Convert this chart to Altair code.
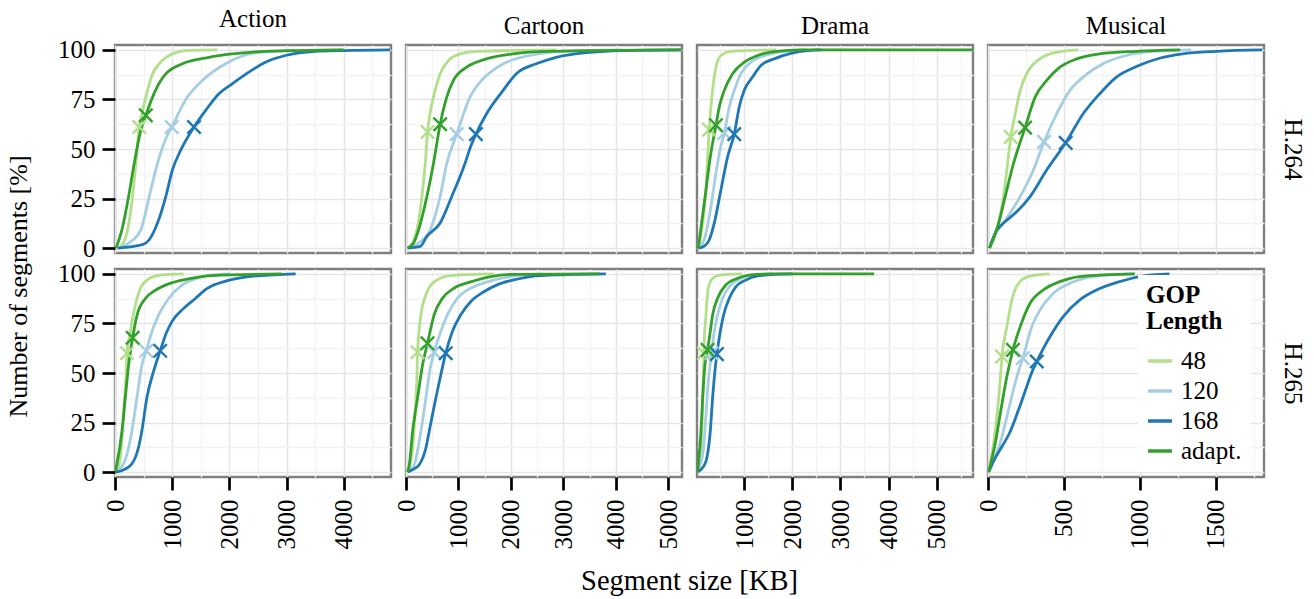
import altair as alt
import pandas as pd

FONT = "Liberation Serif"
GOP = ["48", "120", "168", "adapt."]
COLORS = ["#b2df8a", "#a6cee3", "#1f78b4", "#33a02c"]
GENRES = ["Action", "Cartoon", "Drama", "Musical"]
CODECS = ["H.264", "H.265"]

# x domains per genre column (KB)
ACTION_DOMAIN = [0, 4826]
CARTOON_DOMAIN = [0, 5263]
DRAMA_DOMAIN = [18, 5756]
MUSICAL_DOMAIN = [0, 1816]
ACTION_TICKS = [0, 1000, 2000, 3000, 4000]
CARTOON_TICKS = [0, 1000, 2000, 3000, 4000, 5000]
DRAMA_TICKS = [1000, 2000, 3000, 4000, 5000]
MUSICAL_TICKS = [0, 500, 1000, 1500]
ACTION_MINOR = [500, 1500, 2500, 3500, 4500]
CARTOON_MINOR = [500, 1500, 2500, 3500, 4500]
DRAMA_MINOR = [500, 1500, 2500, 3500, 4500, 5500]
MUSICAL_MINOR = [250, 750, 1250, 1750]
Y_TICKS = [0, 25, 50, 75, 100]
Y_MINOR = [12.5, 37.5, 62.5, 87.5]

# ---- CDF curves: [segment size KB, percent of segments] ----
ACT264_48 = [[46, 0], [145, 2.5], [220, 9.2], [307, 26], [365, 42.7], [423, 61.1], [480, 69], [539, 76.2], [656, 87.9], [772, 93], [1004, 98], [1236, 99.7], [1788, 100]]
ACT264_120 = [[75, 0], [238, 2.5], [452, 9.2], [598, 26], [743, 42.7], [900, 56], [992, 61.1], [1265, 76.2], [1527, 84.6], [1933, 93], [2165, 96.3], [2514, 98.8], [3204, 99.7], [3995, 100]]
ACT264_168 = [[46, 0], [481, 1.7], [598, 4.2], [743, 12.6], [888, 26], [1004, 39.4], [1149, 49.4], [1381, 61.1], [1585, 69.5], [1817, 77.9], [2049, 82.9], [2340, 88.8], [2630, 93.8], [2978, 97.2], [3501, 99.3], [3995, 99.7], [4808, 100]]
ACT264_AD = [[17, 0], [121, 9.2], [238, 26], [336, 42.7], [452, 59.5], [539, 67], [656, 76.2], [801, 84.6], [888, 87.9], [1178, 93], [1643, 96.3], [2049, 98], [2630, 99.3], [3204, 99.7], [3995, 100]]

ACT265_48 = [[6, 0], [80, 5], [134, 20.8], [168, 37.5], [195, 50], [209, 60], [267, 70.8], [354, 84], [441, 92.5], [587, 97.5], [819, 99.5], [1196, 100]]
ACT265_120 = [[6, 0], [151, 4.2], [296, 20.8], [383, 37.5], [470, 54], [546, 61.2], [645, 70.8], [761, 79.2], [935, 87.5], [1167, 94.2], [1400, 97.5], [1632, 99.2], [2000, 100]]
ACT265_168 = [[6, 0], [122, 0.8], [296, 4.2], [412, 12.5], [470, 20.8], [557, 37.5], [674, 50.8], [790, 61.2], [906, 70.8], [993, 75.8], [1196, 82.5], [1400, 87.5], [1600, 92.5], [1950, 96.5], [2300, 98.5], [2800, 99.6], [3159, 100]]
ACT265_AD = [[6, 0], [122, 20.8], [180, 37.5], [238, 54], [308, 67.8], [383, 79], [528, 87.5], [703, 91.7], [935, 95], [1283, 97.5], [1690, 99.2], [2915, 100]]

CAR264_48 = [[51, 0], [209, 9.2], [303, 26], [367, 42.7], [411, 58.6], [460, 68], [524, 76.2], [651, 88], [809, 94.6], [1030, 98], [1346, 99.3], [2862, 100]]
CAR264_120 = [[30, 0], [240, 2.5], [461, 9.2], [651, 26], [777, 42.7], [967, 57.5], [1220, 76.2], [1441, 84.6], [1852, 93], [2357, 97.2], [2989, 99.3], [4126, 100]]
CAR264_168 = [[30, 0], [272, 0.8], [398, 5.9], [651, 12.6], [872, 26], [1125, 42.7], [1230, 51], [1333, 57.5], [1536, 67.8], [1852, 79.6], [2104, 88], [2483, 93], [2863, 96.3], [3495, 98.8], [4126, 99.7], [5250, 100]]
CAR264_AD = [[30, 0], [145, 2.5], [240, 9.2], [398, 26], [524, 42.7], [651, 62.5], [777, 76.2], [904, 84.6], [1156, 91.3], [1536, 95.5], [2041, 98], [2736, 99.3], [5250, 100]]

CAR265_48 = [[31, 0], [126, 12], [170, 29], [205, 45.7], [221, 60.5], [284, 79.3], [378, 89.4], [536, 96], [852, 99.2], [1674, 100]]
CAR265_120 = [[31, 0], [157, 3.7], [284, 20.5], [378, 37.3], [460, 52], [537, 60.5], [663, 70.9], [789, 79.3], [979, 87.7], [1232, 92.8], [1548, 96], [1990, 98.7], [2600, 100]]
CAR265_168 = [[31, 0], [126, 1.2], [252, 3.7], [378, 12], [442, 20.5], [568, 37.3], [663, 49], [758, 60], [884, 70.9], [1042, 79.3], [1232, 86], [1484, 91], [1737, 94.5], [2053, 97], [2369, 98.7], [3000, 99.6], [3810, 100]]
CAR265_AD = [[31, 0], [63, 3.7], [126, 20.5], [220, 37.3], [315, 54], [410, 65], [536, 79.3], [695, 87.7], [916, 92.8], [1232, 96], [1611, 98.7], [2053, 99.8], [3685, 100]]

DRA264_48 = [[45, 0], [135, 12.6], [204, 29.3], [240, 46], [270, 59.8], [342, 79.6], [411, 91.3], [515, 97.2], [723, 99.3], [1660, 100]]
DRA264_120 = [[45, 0], [100, 0.8], [204, 7.5], [308, 21], [411, 37.7], [500, 50], [585, 58.1], [689, 71.2], [793, 79.6], [931, 88], [1138, 93.8], [1554, 98], [1969, 99.7], [2300, 100]]
DRA264_168 = [[45, 0], [135, 0.5], [273, 4.2], [377, 12.6], [515, 29.3], [654, 46], [792, 57.5], [896, 71.2], [1000, 79.6], [1173, 86.3], [1346, 92.1], [1623, 95.5], [1969, 98.3], [2315, 99.7], [2600, 100]]
DRA264_AD = [[45, 0], [114, 12.6], [204, 29.3], [294, 46], [412, 62], [481, 71.2], [585, 79.6], [758, 88], [1000, 93.8], [1277, 97.2], [1623, 99.2], [2200, 100], [5756, 100]]

DRA265_48 = [[31, 0], [100, 12.1], [140, 37.3], [160, 60], [204, 79.3], [252, 92.8], [342, 97.8], [515, 99.5], [950, 100]]
DRA265_120 = [[31, 0], [65, 2], [155, 12.1], [204, 29], [252, 45.7], [322, 60], [377, 71], [446, 79.3], [550, 87.7], [723, 94.5], [931, 97.8], [1208, 99.5], [1600, 100]]
DRA265_168 = [[31, 0], [100, 1.2], [204, 5.4], [294, 20.5], [342, 37.3], [390, 50.8], [432, 59.5], [502, 71], [571, 79.3], [689, 87.7], [827, 93.6], [1035, 97], [1277, 99], [1623, 99.8], [2000, 100]]
DRA265_AD = [[31, 0], [45, 3.7], [100, 20.5], [135, 37.3], [183, 54], [238, 61.7], [294, 71], [342, 79.3], [446, 87.7], [619, 94.5], [861, 97.8], [1138, 99.5], [1600, 100], [3700, 100]]

MUS264_48 = [[10, 0], [59, 9.2], [102, 26], [129, 42.7], [150, 56.1], [179, 67.8], [212, 79.6], [266, 89.6], [342, 95.5], [452, 98.8], [594, 100]]
MUS264_120 = [[10, 0], [20, 2.5], [102, 12.6], [212, 26], [299, 39.4], [369, 53.6], [452, 67.8], [539, 79.6], [626, 86.3], [757, 93], [866, 96.3], [1019, 98.8], [1336, 100]]
MUS264_168 = [[10, 0], [59, 9.2], [102, 12.6], [190, 18.4], [277, 26], [386, 39.4], [511, 53.1], [626, 67.8], [735, 77.9], [845, 86.3], [976, 91.6], [1128, 95.8], [1281, 98], [1500, 99.3], [1805, 100]]
MUS264_AD = [[10, 0], [70, 12.6], [113, 26], [168, 42.7], [244, 60.8], [310, 76.2], [386, 84.6], [473, 91.3], [583, 95.5], [735, 98], [976, 99.3], [1264, 100]]

MUS265_48 = [[4, 0], [37, 14.6], [63, 31.4], [82, 48.2], [92, 58.3], [124, 73.4], [157, 86.9], [201, 95.3], [266, 98.7], [404, 100]]
MUS265_120 = [[4, 0], [11, 1.2], [80, 14.6], [135, 31.4], [190, 48.2], [229, 57.5], [288, 73.4], [342, 81.8], [430, 90.3], [539, 95.3], [692, 98.7], [965, 100]]
MUS265_168 = [[4, 0], [41, 6.2], [92, 12.9], [142, 19.7], [201, 31.4], [255, 43.2], [295, 51.6], [321, 55.8], [408, 68.4], [495, 78.5], [604, 86.9], [714, 91.9], [866, 96.1], [997, 98.7], [1194, 100]]
MUS265_AD = [[4, 0], [48, 14.6], [85, 31.4], [124, 48.2], [164, 61.7], [212, 73.4], [277, 85.2], [364, 91.9], [473, 96.1], [604, 98.7], [965, 100]]

# ---- mean segment size markers, order: 48, 120, 168, adapt. ----
ACT264_MEAN_KB = [423, 992, 1381, 539]
ACT264_MEAN_PCT = [61.1, 61.1, 61.1, 67]
ACT265_MEAN_KB = [209, 546, 790, 308]
ACT265_MEAN_PCT = [60, 61.2, 61.2, 67.8]
CAR264_MEAN_KB = [411, 967, 1333, 651]
CAR264_MEAN_PCT = [58.6, 57.5, 57.5, 62.5]
CAR265_MEAN_KB = [221, 537, 758, 410]
CAR265_MEAN_PCT = [60.5, 60.5, 60, 65]
DRA264_MEAN_KB = [270, 585, 792, 412]
DRA264_MEAN_PCT = [59.8, 58.1, 57.5, 62]
DRA265_MEAN_KB = [160, 322, 432, 238]
DRA265_MEAN_PCT = [60, 60, 59.5, 61.7]
MUS264_MEAN_KB = [150, 369, 511, 244]
MUS264_MEAN_PCT = [56.1, 53.6, 53.1, 60.8]
MUS265_MEAN_KB = [92, 229, 321, 164]
MUS265_MEAN_PCT = [58.3, 57.5, 55.8, 61.7]

CURVES = {
    ("Action", "H.264"): [ACT264_48, ACT264_120, ACT264_168, ACT264_AD],
    ("Action", "H.265"): [ACT265_48, ACT265_120, ACT265_168, ACT265_AD],
    ("Cartoon", "H.264"): [CAR264_48, CAR264_120, CAR264_168, CAR264_AD],
    ("Cartoon", "H.265"): [CAR265_48, CAR265_120, CAR265_168, CAR265_AD],
    ("Drama", "H.264"): [DRA264_48, DRA264_120, DRA264_168, DRA264_AD],
    ("Drama", "H.265"): [DRA265_48, DRA265_120, DRA265_168, DRA265_AD],
    ("Musical", "H.264"): [MUS264_48, MUS264_120, MUS264_168, MUS264_AD],
    ("Musical", "H.265"): [MUS265_48, MUS265_120, MUS265_168, MUS265_AD],
}
MEANS = {
    ("Action", "H.264"): (ACT264_MEAN_KB, ACT264_MEAN_PCT),
    ("Action", "H.265"): (ACT265_MEAN_KB, ACT265_MEAN_PCT),
    ("Cartoon", "H.264"): (CAR264_MEAN_KB, CAR264_MEAN_PCT),
    ("Cartoon", "H.265"): (CAR265_MEAN_KB, CAR265_MEAN_PCT),
    ("Drama", "H.264"): (DRA264_MEAN_KB, DRA264_MEAN_PCT),
    ("Drama", "H.265"): (DRA265_MEAN_KB, DRA265_MEAN_PCT),
    ("Musical", "H.264"): (MUS264_MEAN_KB, MUS264_MEAN_PCT),
    ("Musical", "H.265"): (MUS265_MEAN_KB, MUS265_MEAN_PCT),
}
DOMAINS = {"Action": ACTION_DOMAIN, "Cartoon": CARTOON_DOMAIN, "Drama": DRAMA_DOMAIN, "Musical": MUSICAL_DOMAIN}
TICKS = {"Action": ACTION_TICKS, "Cartoon": CARTOON_TICKS, "Drama": DRAMA_TICKS, "Musical": MUSICAL_TICKS}
MINORS = {"Action": ACTION_MINOR, "Cartoon": CARTOON_MINOR, "Drama": DRAMA_MINOR, "Musical": MUSICAL_MINOR}

W, H = 276, 208
MAJOR_GRID = "#e6e6e6"
MINOR_GRID = "#f3f3f3"
BORDER = "#7f7f7f"
XMARK = "M-1,-1L1,1M-1,1L1,-1"


def panel(genre, codec, row, col):
    recs = []
    for g, pts in zip(GOP, CURVES[(genre, codec)]):
        for i, (kb, pct) in enumerate(pts):
            recs.append({"gop": g, "kb": kb, "pct": pct, "i": i})
    lines_df = pd.DataFrame(recs)
    mk, mp = MEANS[(genre, codec)]
    mean_df = pd.DataFrame({"gop": GOP, "kb": mk, "pct": mp})

    bottom = row == 1
    left = col == 0
    last = col == 3

    xs = alt.Scale(domain=DOMAINS[genre], nice=False, zero=False)
    ys = alt.Scale(domain=[-2.5, 102.5], nice=False, zero=False)

    if bottom and last:
        legend = alt.Legend(
            title=["GOP", "Length"], orient="none", legendX=150, legendY=6,
            fillColor="white", padding=8, symbolType="stroke", symbolSize=576,
            symbolStrokeWidth=3.5, labelFont=FONT, labelFontSize=25, labelColor="black",
            titleFont=FONT, titleFontSize=25, titleFontWeight="bold", titleColor="black",
            titleLineHeight=26, titlePadding=13, rowPadding=3, labelOffset=7,
        )
    else:
        legend = None
    color = alt.Color("gop:N", scale=alt.Scale(domain=GOP, range=COLORS), sort=GOP, legend=legend)

    x_minor = alt.Axis(orient="top", values=MINORS[genre], grid=True, gridColor=MINOR_GRID,
                       gridWidth=1.3, domain=False, ticks=False, labels=False, title=None)
    y_minor_kw = dict(orient="right", values=Y_MINOR, grid=True, gridColor=MINOR_GRID,
                      gridWidth=1.3, domain=False, ticks=False, labels=False)
    if last:
        y_minor = alt.Axis(title=codec, titleFont=FONT, titleFontSize=25, titleFontWeight="normal",
                           titleColor="black", titlePadding=15, titleAngle=90,
                           titleBaseline="bottom", **y_minor_kw)
    else:
        y_minor = alt.Axis(title=None, **y_minor_kw)

    x_kw = dict(orient="bottom", values=TICKS[genre], grid=True, gridColor=MAJOR_GRID,
                gridWidth=1.6, domain=False, ticks=bottom, labels=bottom, format="d",
                tickSize=13, tickWidth=2.7, tickColor="black",
                labelAngle=-90, labelAlign="right", labelBaseline="middle",
                labelFont=FONT, labelFontSize=25, labelColor="black", labelPadding=9,
                labelFlush=False, labelOverlap=False)
    if bottom and left:
        x_major = alt.Axis(title="Segment size [KB]", titleFont=FONT, titleFontSize=28.5,
                           titleFontWeight="normal", titleColor="black", titleX=574, titleY=89,
                           titleAlign="center", titleBaseline="top", titleAngle=0, **x_kw)
    else:
        x_major = alt.Axis(title=None, **x_kw)

    y_kw = dict(orient="left", values=Y_TICKS, grid=True, gridColor=MAJOR_GRID, gridWidth=1.6,
                domain=False, ticks=left, labels=left, tickSize=13, tickWidth=2.7, format="d",
                tickColor="black", labelFont=FONT, labelFontSize=25, labelColor="black",
                labelPadding=7, labelAlign="right", labelBaseline="middle",
                labelFlush=False, labelOverlap=False)
    if left and row == 0:
        y_major = alt.Axis(title="Number of segments [%]", titleFont=FONT, titleFontSize=26,
                           titleFontWeight="normal", titleColor="black", titleX=-84, titleY=241,
                           titleAngle=-90, titleAlign="center", titleBaseline="bottom", **y_kw)
    else:
        y_major = alt.Axis(title=None, **y_kw)

    lines = alt.Chart(lines_df).mark_line(strokeWidth=2.8, clip=True, interpolate="monotone").encode(
        x=alt.X("kb:Q", scale=xs, axis=x_minor),
        y=alt.Y("pct:Q", scale=ys, axis=y_minor),
        color=color,
        order=alt.Order("i:Q"),
    )
    marks = alt.Chart(mean_df).mark_point(
        shape=XMARK, filled=False, size=180, strokeWidth=2.4, opacity=1, clip=True
    ).encode(
        x=alt.X("kb:Q", scale=xs, axis=x_major),
        y=alt.Y("pct:Q", scale=ys, axis=y_major),
        color=color,
    )
    ch = alt.layer(lines, marks).resolve_axis(x="independent", y="independent").properties(
        width=W, height=H, view=alt.ViewBackground(stroke=BORDER, strokeWidth=2.4)
    )
    if row == 0:
        ch = ch.properties(title=alt.TitleParams(genre, font=FONT, fontSize=25, fontWeight="normal",
                                                 color="black", offset=6, frame="group", anchor="middle"))
    return ch


panels = []
for r, codec in enumerate(CODECS):
    for c, g in enumerate(GENRES):
        panels.append(panel(g, codec, r, c))

chart = alt.concat(*panels, columns=4, spacing={"row": 16, "column": 15}, bounds="flush").resolve_scale(
    x="independent", y="independent", color="independent"
).resolve_legend(color="independent").properties(
    padding={"left": 3, "top": 5, "right": 5, "bottom": 0}, background="white"
).configure_view(stroke=BORDER, strokeWidth=2.4)

chart.save("out.html", embed_options={"renderer": "svg", "actions": False})
